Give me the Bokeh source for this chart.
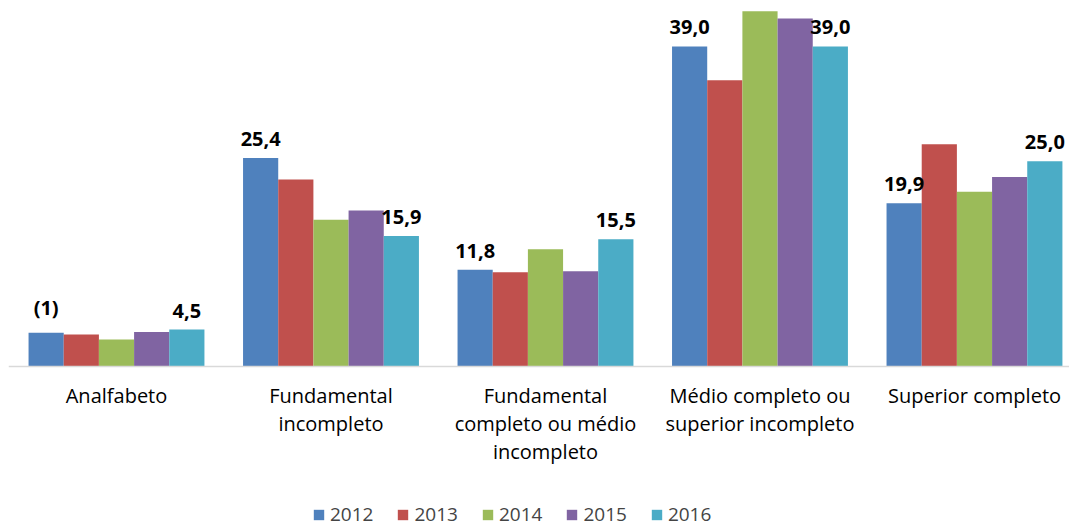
from bokeh.plotting import figure
from bokeh.models import Range1d, Legend, LegendItem, ColumnDataSource, Span
from bokeh.embed import file_html
from bokeh.resources import INLINE
from bokeh.core.properties import value

categories = ["Analfabeto", "Fundamental\nincompleto", "Fundamental\ncompleto ou médio\nincompleto",
              "Médio completo ou\nsuperior incompleto", "Superior completo"]
years = ["2012", "2013", "2014", "2015", "2016"]
v2012 = [4.1, 25.4, 11.8, 39.0, 19.9]
v2013 = [3.9, 22.8, 11.5, 34.9, 27.1]
v2014 = [3.3, 17.9, 14.3, 43.3, 21.3]
v2015 = [4.2, 19.0, 11.6, 42.4, 23.1]
v2016 = [4.5, 15.9, 15.5, 39.0, 25.0]
labels_2012 = ["(1)", "25,4", "11,8", "39,0", "19,9"]
labels_2016 = ["4,5", "15,9", "15,5", "39,0", "25,0"]
colors = ["#4F81BD", "#C0504D", "#9BBB59", "#8064A2", "#4BACC6"]

series = [v2012, v2013, v2014, v2015, v2016]
bar_w = 0.164
xs = list(range(len(categories)))

p = figure(width=1069, height=527, frame_width=1061, frame_height=519,
           output_backend="svg", toolbar_location=None,
           x_range=Range1d(-0.5035, 4.443), y_range=Range1d(-19.62, 43.63),
           min_border_left=8, min_border_right=0, min_border_top=8, min_border_bottom=0)
p.outline_line_color = None
p.xgrid.visible = False
p.ygrid.visible = False
p.xaxis.visible = False
p.yaxis.visible = False

FONT = "Open Sans"
renderers = []
for i, (yr, vals, c) in enumerate(zip(years, series, colors)):
    off = (i - 2) * bar_w
    src = ColumnDataSource(dict(x=[x + off for x in xs], top=vals))
    r = p.vbar(x="x", top="top", width=bar_w, bottom=0, source=src, fill_color=c, line_color=None)
    renderers.append((yr, r))

p.add_layout(Span(location=0, dimension="width", line_color="#D9D9D9", line_width=1.5))

for i, labs, vals in [(0, labels_2012, v2012), (4, labels_2016, v2016)]:
    off = (i - 2) * bar_w
    src = ColumnDataSource(dict(x=[x + off for x in xs], y=vals, t=labs))
    p.text(x="x", y="y", text="t", source=src, text_align="center", text_baseline="bottom",
           y_offset=-12, text_font=value(FONT), text_font_size="20px", text_font_style="bold",
           text_color="#000000")

cat_src = ColumnDataSource(dict(x=xs, y=[0] * len(xs), t=categories))
p.text(x="x", y="y", text="t", source=cat_src, text_align="center", text_baseline="top",
       y_offset=15, text_font=value(FONT), text_font_size="20px", text_color="#000000",
       text_line_height=1.04)

legend = Legend(items=[LegendItem(label=yr, renderers=[r]) for yr, r in renderers],
                orientation="horizontal", location=(304, 0))
legend.label_text_font = FONT
legend.label_text_font_size = "19px"
legend.glyph_width = 13
legend.glyph_height = 13
legend.spacing = 23
legend.label_standoff = 5
legend.border_line_color = None
legend.background_fill_alpha = 0
legend.padding = 0
legend.margin = 0
p.add_layout(legend, "center")

open("out.html", "w").write(file_html(p, INLINE))
